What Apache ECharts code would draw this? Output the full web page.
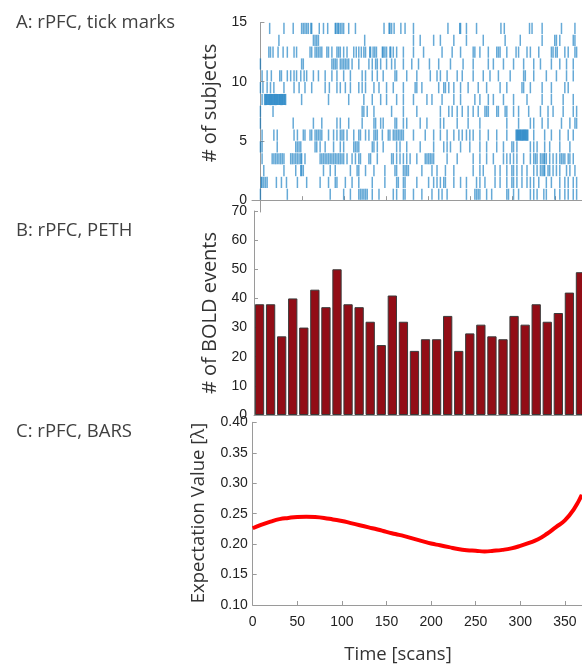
<!DOCTYPE html>
<html>
<head>
<meta charset="utf-8">
<script src="https://cdn.jsdelivr.net/npm/echarts@6/dist/echarts.min.js"></script>
<style>
  html, body { margin: 0; padding: 0; background: #fff; }
  #chart { width: 582px; height: 666px; }
</style>
</head>
<body>
<div id="chart"></div>
<script>
// A: scan numbers of the BOLD events, one list per subject
const subj1 = [0, 32, 83, 99, 107, 117, 119, 121, 123, 125, 127, 133, 141, 158, 162, 170, 172, 182, 192, 204, 212, 216, 222, 245, 255, 257, 259, 261, 269, 275, 293, 295, 301, 307, 321, 325, 329, 337, 340, 350, 356, 362, 366, 372, 376];
const subj2 = [1, 2, 4, 6, 8, 19, 25, 31, 44, 55, 71, 81, 89, 91, 101, 109, 117, 133, 148, 162, 164, 170, 172, 186, 200, 206, 210, 214, 218, 220, 230, 238, 245, 257, 261, 267, 279, 285, 293, 299, 301, 305, 311, 317, 321, 325, 331, 340, 346, 356, 362, 366, 372, 376];
const subj3 = [4, 28, 42, 48, 49, 51, 75, 83, 89, 107, 115, 117, 125, 135, 148, 160, 162, 170, 172, 174, 176, 192, 204, 210, 220, 230, 253, 261, 265, 279, 285, 293, 299, 301, 305, 311, 317, 325, 329, 333, 335, 337, 338, 342, 344, 348, 352, 356, 364, 368, 374];
const subj4 = [2, 14, 16, 18, 20, 22, 24, 26, 28, 36, 38, 40, 42, 44, 46, 48, 49, 53, 71, 73, 75, 77, 79, 81, 83, 85, 87, 89, 91, 93, 95, 97, 99, 103, 109, 113, 117, 119, 129, 131, 139, 156, 158, 162, 166, 170, 174, 178, 186, 196, 198, 200, 202, 204, 206, 222, 234, 253, 261, 269, 277, 289, 293, 297, 301, 305, 313, 321, 325, 327, 329, 333, 335, 337, 338, 340, 344, 348, 352, 356, 358, 360, 362, 366, 368, 372];
const subj5 = [0, 2, 20, 42, 44, 46, 48, 65, 67, 71, 77, 87, 95, 99, 111, 113, 115, 117, 133, 135, 139, 146, 162, 166, 174, 190, 206, 218, 222, 226, 238, 249, 261, 269, 281, 289, 299, 301, 305, 321, 325, 329, 338, 344, 356, 368];
const subj6 = [2, 16, 20, 40, 44, 51, 53, 59, 61, 65, 67, 69, 71, 73, 81, 87, 91, 95, 97, 99, 103, 111, 117, 119, 125, 129, 135, 137, 139, 145, 152, 154, 158, 160, 162, 164, 166, 168, 170, 182, 196, 206, 214, 222, 230, 236, 240, 245, 249, 253, 261, 271, 281, 293, 304, 305, 306, 307, 308, 309, 310, 311, 312, 313, 314, 315, 316, 317, 318, 325, 338, 346, 356, 366, 372];
const subj7 = [0, 39, 63, 73, 91, 95, 105, 121, 135, 137, 143, 146, 160, 162, 170, 174, 190, 198, 214, 218, 234, 247, 261, 293, 307, 321, 325, 335, 342, 358, 368, 374, 376];
const subj8 = [0, 15, 121, 123, 127, 135, 156, 170, 186, 214, 224, 228, 234, 240, 247, 253, 259, 267, 269, 271, 281, 283, 291, 293, 301, 307, 319, 333, 342, 348, 360, 372, 376];
const subj9 = [2, 5, 6, 7, 8, 9, 10, 11, 12, 13, 14, 15, 16, 17, 18, 19, 20, 21, 22, 23, 24, 25, 26, 27, 28, 29, 30, 49, 81, 105, 123, 133, 143, 150, 162, 170, 182, 198, 204, 216, 230, 238, 255, 261, 271, 277, 289, 301, 317, 335, 346, 360, 372];
const subj10 = [0, 3, 8, 12, 16, 28, 40, 46, 53, 61, 77, 82, 91, 95, 101, 107, 117, 121, 125, 135, 141, 150, 158, 170, 184, 186, 192, 212, 218, 220, 224, 230, 238, 247, 259, 269, 285, 293, 311, 313, 321, 335, 346, 362, 366];
const subj11 = [2, 8, 13, 23, 25, 32, 36, 40, 43, 48, 52, 55, 63, 69, 77, 85, 91, 99, 107, 121, 125, 133, 139, 146, 160, 162, 174, 186, 202, 210, 214, 222, 234, 240, 253, 265, 273, 283, 297, 313, 315, 325, 340, 352, 364, 372];
const subj12 = [0, 49, 51, 85, 87, 89, 91, 95, 97, 99, 101, 103, 105, 109, 117, 129, 133, 137, 139, 143, 150, 156, 160, 170, 180, 188, 201, 212, 226, 241, 253, 271, 277, 289, 301, 313, 325, 333, 346, 356, 364, 372];
const subj13 = [10, 12, 15, 21, 27, 32, 40, 43, 59, 61, 65, 67, 69, 71, 73, 79, 81, 85, 91, 93, 95, 99, 103, 111, 114, 117, 120, 123, 125, 130, 131, 134, 136, 138, 145, 146, 148, 150, 154, 155, 158, 162, 170, 182, 194, 216, 228, 238, 253, 255, 261, 271, 281, 283, 285, 293, 304, 307, 317, 321, 331, 346, 348, 351, 353, 362, 366, 374, 376];
const subj14 = [22, 63, 65, 67, 69, 124, 182, 190, 206, 214, 230, 245, 265, 291, 309, 335, 350, 352, 356, 372, 374];
const subj15 = [11, 28, 39, 49, 51, 53, 55, 57, 60, 61, 70, 75, 80, 89, 90, 92, 93, 95, 97, 99, 105, 113, 147, 153, 154, 156, 159, 167, 172, 182, 223, 237, 238, 245, 257, 286, 290, 320, 323, 335, 358, 374];
const subjects = [subj1, subj2, subj3, subj4, subj5, subj6, subj7, subj8, subj9, subj10, subj11, subj12, subj13, subj14, subj15];

// B: PETH, number of BOLD events per bin
const bins = ['1','2','3','4','5','6','7','8','9','10','11','12','13','14','15','16','17','18','19','20','21','22','23','24','25','26','27','28','29','30'];
const eventCounts = [38, 38, 27, 40, 30, 43, 37, 50, 38, 37, 32, 24, 41, 32, 22, 26, 26, 34, 22, 28, 31, 27, 26, 34, 31, 38, 32, 35, 42, 49];

// C: BARS fit, expectation value over time
const fitTime = [0, 10, 20, 30, 40, 50, 60, 70, 80, 90, 100, 110, 120, 130, 140, 150, 160, 170, 180, 190, 200, 210, 220, 230, 240, 250, 260, 270, 280, 290, 300, 310, 320, 330, 340, 350, 360, 369];
const fitValue = [0.226, 0.232, 0.237, 0.241, 0.243, 0.2445, 0.245, 0.2445, 0.243, 0.2405, 0.238, 0.2345, 0.231, 0.2275, 0.224, 0.220, 0.2165, 0.213, 0.209, 0.205, 0.201, 0.198, 0.195, 0.192, 0.190, 0.189, 0.188, 0.189, 0.1905, 0.193, 0.197, 0.202, 0.208, 0.217, 0.228, 0.239, 0.257, 0.281];

const timeTicks = [0, 50, 100, 150, 200, 250, 300, 350];
const subjectTickLabels = [0, 5, 10, 15];

const rasterData = [];
subjects.forEach((scans, i) => {
  scans.forEach(t => rasterData.push([t, i + 1]));
});

const labelFont = 'Liberation Sans';
const titleFont = 'Open Sans';
const axisGray = '#9a9a9a';

const axisLine = { show: true, lineStyle: { color: axisGray, width: 1 } };
const tickIn = { show: true, inside: true, length: 4, lineStyle: { color: axisGray } };
const labelStyle = { color: '#222', fontFamily: labelFont, fontSize: 14 };

// axis titles, placed by hand like in the figure
function axisTitle(text, x, y, size, rotated) {
  return {
    type: 'text', x: x, y: y, rotation: rotated ? Math.PI / 2 : 0,
    style: {
      text: text, fill: '#333', font: size + 'px "' + titleFont + '"',
      align: 'center', verticalAlign: 'middle'
    }
  };
}

const chart = echarts.init(document.getElementById('chart'));
chart.setOption({
  animation: false,
  backgroundColor: '#fff',
  title: [
    { text: 'A: rPFC, tick marks', left: 16, top: 13 },
    { text: 'B: rPFC, PETH', left: 16, top: 221 },
    { text: 'C: rPFC, BARS', left: 16, top: 422 }
  ].map(t => Object.assign(t, {
    padding: 0,
    textStyle: { fontFamily: titleFont, fontSize: 18.5, fontWeight: 'normal', color: '#404040' }
  })),
  graphic: [
    axisTitle('# of subjects', 210, 103, 20, true),
    axisTitle('# of BOLD events', 210, 313, 20, true),
    axisTitle('Expectation Value [\u03bb]', 199, 513, 18.5, true),
    axisTitle('Time [scans]', 398, 655, 18.5, false)
  ],
  grid: [
    { left: 252, top: 22.5, right: 0, bottom: 454, outerBoundsMode: 'none' },
    { left: 254, top: 211, right: -4, bottom: 251, outerBoundsMode: 'none' },
    { left: 252.7, top: 422.3, right: 0, bottom: 61, outerBoundsMode: 'none' }
  ],
  xAxis: [
    {
      gridIndex: 0, type: 'value', min: -10, max: 382.4,
      axisLine: axisLine,
      axisTick: Object.assign({ customValues: timeTicks }, tickIn),
      axisLabel: { show: false },
      splitLine: { show: false }
    },
    {
      gridIndex: 1, type: 'category', data: bins,
      axisLine: axisLine,
      axisTick: { show: false },
      axisLabel: { show: false }
    },
    {
      gridIndex: 2, type: 'value', min: 0, max: 369.2,
      axisLine: axisLine,
      axisTick: Object.assign({ customValues: timeTicks }, tickIn),
      axisLabel: Object.assign({ customValues: timeTicks, margin: 10 }, labelStyle),
      splitLine: { show: false }
    }
  ],
  yAxis: [
    {
      gridIndex: 0, type: 'value', min: -1, max: 15,
      axisLine: axisLine,
      axisTick: Object.assign({ customValues: subjectTickLabels }, tickIn),
      axisLabel: Object.assign({ customValues: subjectTickLabels, margin: 5 }, labelStyle),
      splitLine: { show: false }
    },
    {
      gridIndex: 1, type: 'value', min: 0, max: 70, interval: 10,
      axisLine: axisLine,
      axisTick: tickIn,
      axisLabel: Object.assign({ margin: 7 }, labelStyle),
      splitLine: { show: false }
    },
    {
      gridIndex: 2, type: 'value', min: 0.10, max: 0.40, interval: 0.05,
      axisLine: axisLine,
      axisTick: tickIn,
      axisLabel: Object.assign({ margin: 5, formatter: v => v.toFixed(2) }, labelStyle),
      splitLine: { show: false }
    }
  ],
  series: [
    {
      type: 'custom',
      xAxisIndex: 0, yAxisIndex: 0,
      data: rasterData,
      renderItem: function (params, api) {
        const t = api.value(0);
        const s = api.value(1);
        const p1 = api.coord([t, s - 0.975]);
        const p2 = api.coord([t, s - 0.03]);
        return {
          type: 'line',
          shape: { x1: p1[0], y1: p1[1], x2: p2[0], y2: p2[1] },
          style: { stroke: '#0072BD', lineWidth: 1.5, opacity: 0.6 }
        };
      }
    },
    {
      type: 'bar',
      xAxisIndex: 1, yAxisIndex: 1,
      data: eventCounts,
      barWidth: '84%',
      itemStyle: { color: '#920d16', borderColor: '#3a3a3a', borderWidth: 1 }
    },
    {
      type: 'line',
      xAxisIndex: 2, yAxisIndex: 2,
      data: fitTime.map((t, i) => [t, fitValue[i]]),
      smooth: true,
      showSymbol: false,
      lineStyle: { color: '#ff0000', width: 4 }
    }
  ]
});
</script>
</body>
</html>
